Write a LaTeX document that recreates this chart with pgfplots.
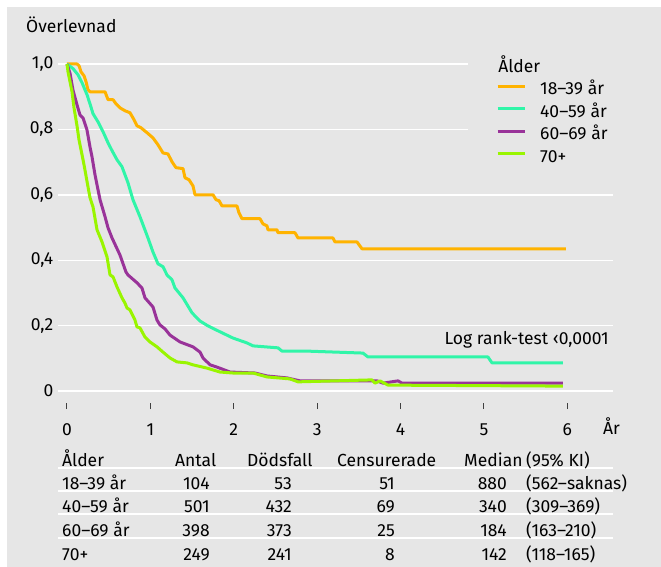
\documentclass[border=0pt]{standalone}
\usepackage{fontspec}
\setmainfont{Fira Sans}
\usepackage{pgfplots}
\pgfplotsset{compat=1.18}
\definecolor{bgc}{HTML}{E6E6E6}
\definecolor{corange}{HTML}{FFB300}
\definecolor{cteal}{HTML}{30F5A8}
\definecolor{cpurple}{HTML}{993399}
\definecolor{clime}{HTML}{99F500}
\newcommand{\f}{\fontsize{17.5bp}{20bp}\selectfont}
\newcommand{\tl}[3]{\node[anchor=base west,inner sep=0pt] at (#1bp,-#2bp) {#3};}
\newcommand{\tr}[3]{\node[anchor=base east,inner sep=0pt] at (#1bp,-#2bp) {#3};}
\begin{document}
\f
\begin{tikzpicture}[font=\f]
\path[use as bounding box] (0,0) rectangle (661bp,-567bp);
\fill[white] (0,0) rectangle (661bp,-567bp);
\fill[bgc] (7bp,-7bp) rectangle (661bp,-567bp);
\begin{axis}[
  at={(58bp,-403bp)}, anchor=south west,
  scale only axis, width=555bp, height=353bp,
  xmin=-0.1079, xmax=6.547, ymin=-0.0367, ymax=1.0428,
  axis line style={draw=none},
  xtick={0,1,2,3,4,5,6}, xticklabels={0,1,2,3,4,5,6},
  ytick={0,0.2,0.4,0.6,0.8,1.0}, yticklabels={0,{0,2},{0,4},{0,6},{0,8},{1,0}},
  tick align=outside, major tick length=6bp,
  xtick style={draw=black!75, line width=1bp},
  ytick style={draw=none},
  xtick pos=bottom, ytick pos=left,
  xticklabel style={anchor=base, yshift=-26bp, inner sep=0pt},
  yticklabel style={anchor=east, inner sep=0pt, xshift=1.5bp},
  ymajorgrids, grid style={white, line width=1.4bp},
  ylabel={Överlevnad},
  ylabel style={rotate=-90, at={(axis description cs:-0.0577,1.0482)}, anchor=base west, inner sep=0pt},
  xlabel={År},
  xlabel style={at={(axis description cs:0.982,-0.0906)}, anchor=base west, inner sep=0pt},
  legend style={at={(axis description cs:0.7387,0.990)}, anchor=north west,
    fill=bgc, draw=none, inner xsep=28bp, inner ysep=6bp, font=\f,
    nodes={inner sep=0pt, text height=12.5bp, text depth=4.5bp},
    row sep=5.5bp, column sep=14bp},
  legend cell align=left,
  legend image code/.code={\draw[#1, line width=3bp] (0bp,4.5bp) -- (27bp,4.5bp);},
  every axis plot/.append style={line width=3bp, line join=round},
]
\addlegendimage{empty legend}
\addlegendentry{\hspace{-43bp}Ålder}
\addplot[corange] coordinates {
(0,1.0) (0.12,1.0) (0.144,0.995) (0.168,0.976) (0.204,0.964) (0.228,0.946) (0.252,0.921) (0.276,0.915)
(0.456,0.915) (0.492,0.891) (0.552,0.891) (0.588,0.878) (0.635,0.866) (0.695,0.857) (0.755,0.851)
(0.803,0.830) (0.839,0.811) (0.887,0.805) (0.959,0.790) (1.031,0.774) (1.091,0.753) (1.151,0.728)
(1.211,0.725) (1.259,0.701) (1.307,0.683) (1.391,0.680) (1.415,0.652) (1.463,0.646) (1.511,0.627)
(1.535,0.600) (1.751,0.600) (1.787,0.585) (1.823,0.582) (1.859,0.566) (2.038,0.566) (2.062,0.545)
(2.098,0.527) (2.314,0.527) (2.350,0.511) (2.398,0.505) (2.410,0.493) (2.518,0.493) (2.530,0.484)
(2.734,0.484) (2.770,0.468) (3.189,0.468) (3.213,0.456) (3.477,0.456) (3.537,0.435) (5.983,0.435)
};
\addlegendentry{18–39 år}
\addplot[cteal] coordinates {
(0,1.0) (0.072,0.986) (0.132,0.967) (0.180,0.943) (0.240,0.906) (0.276,0.878) (0.312,0.848)
(0.372,0.823) (0.432,0.793) (0.492,0.759) (0.540,0.735) (0.600,0.707) (0.659,0.686) (0.731,0.637)
(0.791,0.585) (0.875,0.533) (0.971,0.468) (1.031,0.425) (1.091,0.389) (1.151,0.380) (1.199,0.355)
(1.259,0.340) (1.295,0.315) (1.391,0.285) (1.499,0.239) (1.595,0.214) (1.691,0.199) (1.835,0.181)
(1.990,0.162) (2.158,0.147) (2.230,0.138) (2.530,0.132) (2.578,0.122) (2.878,0.122) (3.549,0.116)
(3.609,0.104) (5.048,0.104) (5.096,0.086) (5.947,0.086)
};
\addlegendentry{40–59 år}
\addplot[cpurple] coordinates {
(0,1.0) (0.036,0.972) (0.072,0.920) (0.120,0.875) (0.156,0.844) (0.192,0.835) (0.240,0.798)
(0.276,0.746) (0.300,0.716) (0.336,0.661) (0.396,0.585) (0.456,0.533) (0.492,0.499) (0.540,0.468)
(0.635,0.416) (0.707,0.364) (0.731,0.355) (0.839,0.331) (0.899,0.315) (0.935,0.285) (1.031,0.257)
(1.079,0.217) (1.115,0.202) (1.175,0.190) (1.235,0.171) (1.355,0.150) (1.511,0.135) (1.595,0.119)
(1.631,0.101) (1.715,0.080) (1.799,0.073) (1.955,0.058) (2.254,0.055) (2.398,0.046) (2.638,0.040)
(2.794,0.031) (3.717,0.031) (3.789,0.024) (3.969,0.031) (4.017,0.024) (5.947,0.024)
};
\addlegendentry{60–69 år}
\addplot[clime] coordinates {
(0,1.0) (0.012,0.976) (0.036,0.946) (0.060,0.915) (0.084,0.866) (0.120,0.811) (0.144,0.768)
(0.168,0.738) (0.204,0.692) (0.252,0.624) (0.276,0.591) (0.312,0.563) (0.360,0.493) (0.420,0.456)
(0.480,0.410) (0.516,0.355) (0.552,0.349) (0.600,0.318) (0.659,0.285) (0.695,0.269) (0.719,0.254)
(0.755,0.248) (0.815,0.217) (0.839,0.196) (0.875,0.193) (0.935,0.165) (0.995,0.150) (1.079,0.135)
(1.151,0.119) (1.235,0.101) (1.319,0.089) (1.439,0.086) (1.511,0.080) (1.679,0.070) (1.835,0.058)
(1.990,0.055) (2.230,0.055) (2.398,0.043) (2.674,0.037) (2.770,0.028) (3.657,0.034) (3.693,0.024)
(3.753,0.031) (3.849,0.018) (5.947,0.015)
};
\addlegendentry{70+}
\node[anchor=base east, inner sep=0pt] at (axis cs:6.499,0.1407) {Log rank-test ‹0,0001};
\end{axis}
% table
\foreach \yy in {468,491,514,538} {\draw[white, line width=1.4bp] (58bp,-\yy bp) -- (613bp,-\yy bp);}
\tl{62}{466}{Ålder}\tl{175}{466}{Antal}\tl{247}{466}{Dödsfall}\tl{337}{466}{Censurerade}\tl{464}{466}{Median}\tl{526}{466}{(95\% KI)}
\tl{62}{489}{18–39 år}\tr{210}{489}{104}\tr{292}{489}{53}\tr{395}{489}{51}\tr{507}{489}{880}\tl{526}{489}{(562–saknas)}
\tl{62}{512}{40–59 år}\tr{210}{512}{501}\tr{292}{512}{432}\tr{395}{512}{69}\tr{507}{512}{340}\tl{526}{512}{(309–369)}
\tl{62}{536}{60–69 år}\tr{210}{536}{398}\tr{292}{536}{373}\tr{395}{536}{25}\tr{507}{536}{184}\tl{526}{536}{(163–210)}
\tl{62}{560}{70+}\tr{210}{560}{249}\tr{292}{560}{241}\tr{395}{560}{8}\tr{507}{560}{142}\tl{526}{560}{(118–165)}
\end{tikzpicture}
\end{document}
